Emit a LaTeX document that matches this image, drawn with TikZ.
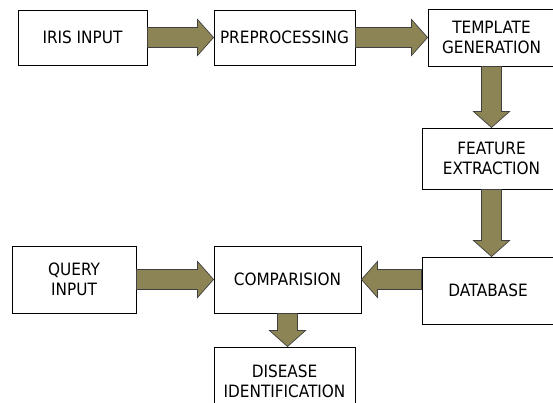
\documentclass[tikz,border=0pt]{standalone}
\usepackage{fontspec}
\setmainfont{DejaVu Sans Condensed}
\usetikzlibrary{calc}
\definecolor{arrowolive}{RGB}{140,132,84}
\definecolor{arrowline}{RGB}{64,64,64}

% fat block arrow from #1 to #2
\newcommand{\fatarrow}[2]{%
\coordinate (hb) at ($(#2)!16pt!(#1)$);
\draw [fat] ($(#1)!10pt!90:(#2)$) -- ($(hb)!10pt!90:(#2)$) -- ($(hb)!18pt!90:(#2)$)
  -- (#2) -- ($(hb)!18pt!-90:(#2)$) -- ($(hb)!10pt!-90:(#2)$) -- ($(#1)!10pt!-90:(#2)$) -- cycle;
}

\begin{document}
\begin{tikzpicture}[x=1pt,y=-1pt,
  blok/.style={draw=black, line width=0.9pt, align=center, inner sep=0pt,
    font=\fontsize{17}{20}\selectfont},
  fat/.style={fill=arrowolive, draw=arrowline, line width=0.7pt}]
\useasboundingbox (0,0) rectangle (553,403);
\clip (0,0) rectangle (553,403);
% blocks
\node [blok, minimum width=129, minimum height=55] (iris) at (82.5,37.5) {IRIS INPUT};
\node [blok, minimum width=141, minimum height=55] (prep) at (284.5,37.5) {PREPROCESSING};
\node [blok, minimum width=127, minimum height=57] (templ) at (491.5,37.5) {TEMPLATE\\GENERATION};
\node [blok, minimum width=139, minimum height=61] (feat) at (491.5,158.5) {FEATURE\\EXTRACTION};
\node [blok, minimum width=132, minimum height=67] (db) at (488,290.5) {DATABASE};
\node [blok, minimum width=147, minimum height=67] (comp) at (287.5,279.5) {COMPARISION};
\node [blok, minimum width=124, minimum height=67] (query) at (74,279.5) {QUERY\\INPUT};
\node [blok, minimum width=141, minimum height=68] (dis) at (284.5,381) {DISEASE\\IDENTIFICATION};
% arrows
\fatarrow{iris.east}{prep.west}
\fatarrow{prep.east}{templ.west}
\fatarrow{templ.south}{feat.north}
\fatarrow{feat.south}{feat.south |- db.north}
\fatarrow{comp.east -| db.west}{comp.east}
\fatarrow{query.east}{comp.west}
\fatarrow{comp.south}{comp.south |- dis.north}
\end{tikzpicture}
\end{document}
